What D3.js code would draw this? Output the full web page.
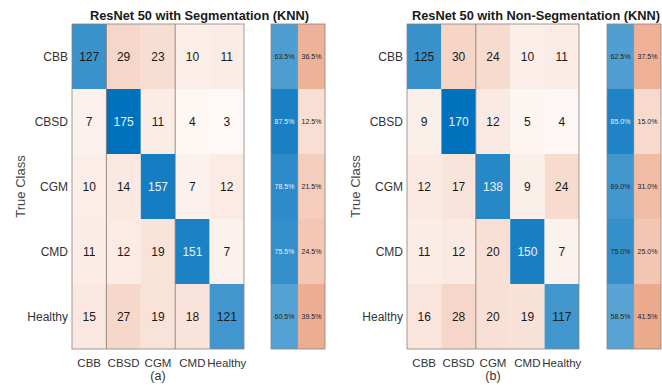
<!DOCTYPE html>
<html><head><meta charset="utf-8">
<script src="https://cdn.jsdelivr.net/npm/d3@7"></script>
<style>
html,body{margin:0;padding:0;background:#fff;}
svg{display:block;font-family:Arial,"Liberation Sans",sans-serif;}
</style></head>
<body>
<svg id="chart" width="662" height="385"></svg>
<script>
const categories = ["CBB","CBSD","CGM","CMD","Healthy"];
const segValues = [
  [127, 29, 23, 10, 11],
  [7, 175, 11, 4, 3],
  [10, 14, 157, 7, 12],
  [11, 12, 19, 151, 7],
  [15, 27, 19, 18, 121]
];
const nonSegValues = [
  [125, 30, 24, 10, 11],
  [9, 170, 12, 5, 4],
  [12, 17, 138, 9, 24],
  [11, 12, 20, 150, 7],
  [16, 28, 20, 19, 117]
];
const titles = ["ResNet 50 with Segmentation (KNN)", "ResNet 50 with Non-Segmentation (KNN)"];
const subLabels = ["(a)", "(b)"];
const yTitle = "True Class";

const svg = d3.select("#chart");
const diagC = d3.rgb(0, 114, 189);
const offC = d3.rgb(217, 83, 25);
const blend = (c, f) => {
  const t = Math.pow(Math.max(0, Math.min(1, f)), 0.8);
  return d3.rgb(255 + (c.r - 255) * t, 255 + (c.g - 255) * t, 255 + (c.b - 255) * t).toString();
};

const panels = [
  {values: segValues, left: 72, sumLeft: 271, title: titles[0], titleX: 199.5, label: subLabels[0], ylabX: 25, dark: [1, 3]},
  {values: nonSegValues, left: 407, sumLeft: 607, title: titles[1], titleX: 536, label: subLabels[1], ylabX: 360, dark: [2]}
];

panels.forEach(p => {
  const g = svg.append("g");
  const x = d3.scaleBand().domain(categories).range([p.left, p.left + 172]);
  const y = d3.scaleBand().domain(categories).range([24, 349]);
  const xs = d3.scaleBand().domain(["correct", "wrong"]).range([p.sumLeft, p.sumLeft + 54]);
  const vmax = d3.max(p.values.flat());
  const cells = [];
  p.values.forEach((row, i) => row.forEach((v, j) => cells.push({r: categories[i], c: categories[j], v, diag: i === j})));

  g.selectAll("rect.cell").data(cells).join("rect")
    .attr("x", d => x(d.c)).attr("y", d => y(d.r))
    .attr("width", x.bandwidth()).attr("height", y.bandwidth())
    .attr("fill", d => blend(d.diag ? diagC : offC, d.v / vmax));
  g.selectAll("text.cell").data(cells).join("text")
    .attr("x", d => x(d.c) + x.bandwidth() / 2).attr("y", d => y(d.r) + y.bandwidth() / 2)
    .attr("dy", "0.36em").attr("text-anchor", "middle").attr("font-size", 12)
    .attr("fill", d => (d.diag && d.v / vmax > 0.75) ? "#e8f2fb" : "#1a1a1a")
    .text(d => d.v);

  // row summary
  const sums = [];
  p.values.forEach((row, i) => {
    const tot = d3.sum(row);
    const pc = row[i] / tot * 100;
    sums.push({r: categories[i], k: "correct", p: pc});
    sums.push({r: categories[i], k: "wrong", p: 100 - pc});
  });
  g.selectAll("rect.sum").data(sums).join("rect")
    .attr("x", d => xs(d.k)).attr("y", d => y(d.r))
    .attr("width", xs.bandwidth()).attr("height", y.bandwidth())
    .attr("fill", d => blend(d.k === "correct" ? diagC : offC, d.p / 100));
  g.selectAll("text.sum").data(sums).join("text")
    .attr("x", d => xs(d.k) + xs.bandwidth() / 2).attr("y", d => y(d.r) + y.bandwidth() / 2)
    .attr("dy", "0.36em").attr("text-anchor", "middle").attr("font-size", 7)
    .attr("fill", d => (d.k === "correct" && d.p > 75.2) ? "#e8f2fb" : "#222")
    .text(d => d.p.toFixed(1) + "%");

  // borders
  g.append("rect").attr("x", p.left).attr("y", 24).attr("width", 172).attr("height", 325)
    .attr("fill", "none").attr("stroke", "#8a8480").attr("stroke-width", 0.8);
  g.append("rect").attr("x", p.sumLeft).attr("y", 24).attr("width", 54).attr("height", 325)
    .attr("fill", "none").attr("stroke", "#8a8480").attr("stroke-width", 0.8);
  g.append("line").attr("x1", xs("wrong")).attr("x2", xs("wrong")).attr("y1", 24).attr("y2", 349)
    .attr("stroke", "#b0a8a4").attr("stroke-width", 0.5);
  p.dark.forEach(k => {
    g.append("line").attr("x1", x(categories[k])).attr("x2", x(categories[k])).attr("y1", 24).attr("y2", 349)
      .attr("stroke", "#7a7470").attr("stroke-width", 0.8);
  });

  // axes labels
  g.selectAll("text.rowlab").data(categories).join("text")
    .attr("x", p.left - 4).attr("y", d => y(d) + y.bandwidth() / 2).attr("dy", "0.36em")
    .attr("text-anchor", "end").attr("font-size", 12).attr("fill", "#333").text(d => d);
  g.selectAll("text.collab").data(categories).join("text")
    .attr("x", d => x(d) + x.bandwidth() / 2).attr("y", 366.5)
    .attr("text-anchor", "middle").attr("font-size", 11.5).attr("fill", "#333").text(d => d);
  g.append("text").attr("x", p.left + 86).attr("y", 380).attr("text-anchor", "middle")
    .attr("font-size", 12.5).attr("fill", "#333").text(p.label);
  g.append("text").attr("transform", `translate(${p.ylabX},186.5) rotate(-90)`)
    .attr("text-anchor", "middle").attr("font-size", 13).attr("fill", "#444").text(yTitle);
  g.append("text").attr("x", p.titleX).attr("y", 19.5).attr("text-anchor", "middle")
    .attr("font-size", 12.8).attr("font-weight", "bold").attr("fill", "#1a1a1a").text(p.title);
});
</script>
</body></html>
